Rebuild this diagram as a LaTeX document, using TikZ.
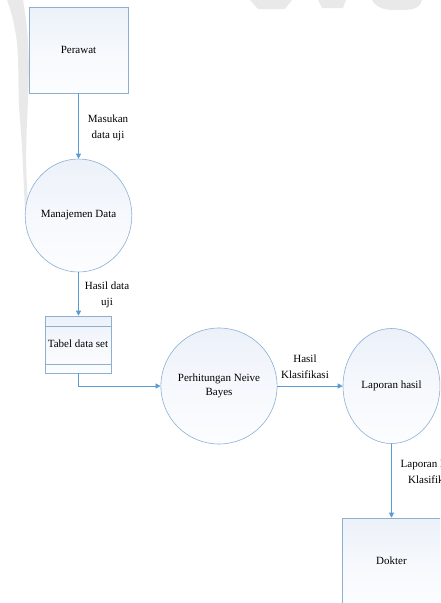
\documentclass[tikz,border=0pt]{standalone}
\usepackage{fontspec}
\setmainfont{Liberation Serif}
\usetikzlibrary{arrows.meta,shapes.geometric}
\definecolor{flow}{RGB}{91,155,213}
\definecolor{edgec}{RGB}{140,175,210}
\definecolor{fillt}{RGB}{236,241,249}
\definecolor{fillb}{RGB}{252,253,255}
\definecolor{wm}{RGB}{233,233,233}
\begin{document}
\begin{tikzpicture}[x=1pt,y=-1pt,
  shapebase/.style={draw=edgec, line width=0.6pt, top color=fillt, bottom color=fillb, middle color=fillb!60!fillt, inner sep=0pt, font=\rmfamily\fontsize{11}{14}\selectfont, align=center},
  ent/.style={shapebase, rectangle, minimum width=99pt, minimum height=86pt},
  proc/.style={shapebase, ellipse},
  store/.style={shapebase, rectangle, minimum width=66pt, minimum height=57pt},
  flowline/.style={draw=flow, line width=0.8pt, -{Triangle[length=5pt,width=5pt]}},
  lbl/.style={font=\rmfamily\fontsize{11}{16}\selectfont, align=center, inner sep=0pt}]
\useasboundingbox (0,0) rectangle (440,603);
\clip (0,0) rectangle (440,603);
% faint watermark
\fill[wm] (7,0) -- (23,0) to[out=-80,in=95] (28,200) to[out=-85,in=90] (27,236) to[out=95,in=-85] (20,120) to[out=95,in=-70] (7,0) -- cycle;
\fill[wm] (250,0) -- (292,0) -- (285,9) -- (258,9) -- cycle;
\fill[wm] (318,0) -- (346,0) -- (343,8) -- (322,8) -- cycle;
\fill[wm] (372,0) -- (422,0) to[out=-100,in=0] (395,10) to[out=180,in=-60] (372,0) -- cycle;
% nodes
\node[ent] (perawat) at (78.5,50) {Perawat};
\node[proc, minimum width=99pt, minimum height=113pt] (manaj) at (78.5,215.5) {Manajemen Data};
\node[store] (tabel) at (78,344.5) {};
\node[font=\rmfamily\fontsize{11}{14}\selectfont, inner sep=0pt] (tabeltxt) at (78,344) {Tabel data set};
\draw[draw=edgec, line width=0.6pt] (tabel.west |- 0,326) -- (tabel.east |- 0,326);
\draw[draw=edgec, line width=0.6pt] (tabel.west |- 0,364) -- (tabel.east |- 0,364);
\node[proc, minimum width=102pt, minimum height=116pt] (perhit) at (219,386) {Perhitungan Neive\\Bayes};
\node[proc, minimum width=97pt, minimum height=115pt] (lapor) at (391.5,386) {Laporan hasil};
\node[ent] (dokter) at (391.5,561) {Dokter};
% connectors
\draw[flowline] (perawat) -- (manaj);
\draw[flowline] (manaj.south) -- (manaj.south |- tabel.north);
\draw[flowline] (tabel.south) |- (perhit.west);
\draw[flowline] (perhit) -- (lapor);
\draw[flowline] (lapor) -- (dokter);
% labels
\node[lbl] (l1) at (108,128) {Masukan\\data uji};
\node[lbl] (l2) at (107,295) {Hasil data\\uji};
\node[lbl] (l3) at (305,367) {Hasil\\Klasifikasi};
\node[lbl] (l4) at (432,472) {Laporan Hasil\\Klasifikasi};
\end{tikzpicture}
\end{document}
